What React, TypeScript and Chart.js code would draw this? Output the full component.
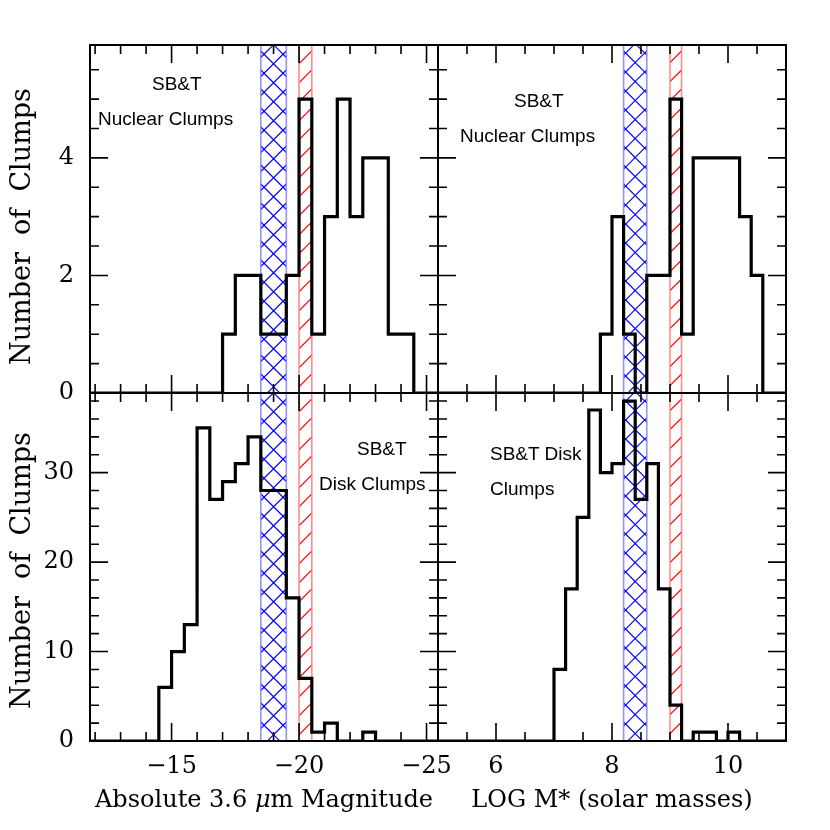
import React, { useEffect, useRef } from 'react';
import { Chart, registerables } from 'chart.js';

Chart.register(...registerables);

// ---------------- DATA ----------------
// Absolute 3.6 micron magnitude histograms (bin edges, 0.5 mag bins)
const magEdgesNuclear = [-17, -17.5, -18, -18.5, -19, -19.5, -20, -20.5, -21, -21.5, -22, -22.5, -23, -23.5, -24, -24.5];
const magCountsNuclear = [1, 2, 2, 1, 1, 2, 5, 1, 3, 5, 3, 4, 4, 1, 1];
const magEdgesDisk = [-14.5, -15, -15.5, -16, -16.5, -17, -17.5, -18, -18.5, -19, -19.5, -20, -20.5, -21, -21.5, -22, -22.5, -23];
const magCountsDisk = [6, 10, 13, 35, 27, 29, 31, 34, 28, 28, 16, 7, 1, 2, 0, 0, 1];

// LOG M* histograms (bin edges, 0.2 dex bins)
const massEdgesNuclear = [7.8, 8.0, 8.2, 8.4, 8.6, 8.8, 9.0, 9.2, 9.4, 9.6, 9.8, 10.0, 10.2, 10.4, 10.6];
const massCountsNuclear = [1, 3, 1, 0, 2, 2, 5, 1, 4, 4, 4, 4, 3, 2];
const massEdgesDisk = [7.0, 7.2, 7.4, 7.6, 7.8, 8.0, 8.2, 8.4, 8.6, 8.8, 9.0, 9.2, 9.4, 9.6, 9.8, 10.0, 10.2];
const massCountsDisk = [8, 17, 25, 37, 30, 31, 38, 27, 31, 17, 4, 0, 1, 1, 0, 1];

// shaded reference bands
const magBlueBand = [-18.5, -19.5];
const magRedBand = [-20.0, -20.5];
const massBlueBand = [8.2, 8.6];
const massRedBand = [9.0, 9.2];

// axis ranges and tick labels
const magRange = [-25.45, -11.8];
const massRange = [5, 11];
const nuclearCountMax = 5.92;
const diskCountMax = 38.9;
const magTickLabels = [-15, -20, -25];
const massTickLabels = [6, 8, 10];
const nuclearCountTicks = [0, 2, 4];
const diskCountTicks = [0, 10, 20, 30];

// ---------------- HELPERS ----------------
function stepPoints(edges: number[], counts: number[], lo: number, hi: number) {
  const pts: { x: number; y: number }[] = [{ x: lo, y: 0 }, { x: edges[0], y: 0 }];
  counts.forEach((c, i) => {
    pts.push({ x: edges[i], y: c });
    pts.push({ x: edges[i + 1], y: c });
  });
  pts.push({ x: edges[edges.length - 1], y: 0 });
  pts.push({ x: hi, y: 0 });
  return pts;
}

function range(a: number, b: number, step: number) {
  const out: number[] = [];
  const n = Math.round((b - a) / step);
  for (let i = 0; i <= n; i++) out.push(+(a + i * step).toFixed(6));
  return out;
}

function hatch(ctx: CanvasRenderingContext2D, l: number, t: number, r: number, b: number, spacing: number, dir: number) {
  const w = r - l;
  const h = b - t;
  ctx.beginPath();
  for (let c = -w - spacing; c <= h + w + spacing; c += spacing) {
    if (dir > 0) {
      ctx.moveTo(l, b - c);
      ctx.lineTo(r, b - c - w);
    } else {
      ctx.moveTo(l, b - c - w);
      ctx.lineTo(r, b - c);
    }
  }
  ctx.stroke();
}

const decorPlugin = {
  id: 'decor',
  beforeDatasetsDraw(chart: any, _args: any, opts: any) {
    const { ctx, chartArea: a, scales } = chart;
    const x = scales.x;
    const bands = [
      { band: opts.blue, color: '#0000ff', edge: 'rgba(120,120,255,0.8)', spacing: 19, cross: true },
      { band: opts.red, color: '#ff0000', edge: 'rgba(255,120,120,0.85)', spacing: 19, cross: false },
    ];
    bands.forEach((bd) => {
      const p1 = x.getPixelForValue(bd.band[0]);
      const p2 = x.getPixelForValue(bd.band[1]);
      const l = Math.min(p1, p2);
      const r = Math.max(p1, p2);
      ctx.save();
      ctx.beginPath();
      ctx.rect(l, a.top, r - l, a.bottom - a.top);
      ctx.clip();
      ctx.strokeStyle = bd.color;
      ctx.lineWidth = 1.1;
      hatch(ctx, l, a.top, r, a.bottom, bd.spacing, 1);
      if (bd.cross) hatch(ctx, l, a.top, r, a.bottom, bd.spacing, -1);
      ctx.restore();
      ctx.save();
      ctx.strokeStyle = bd.edge;
      ctx.lineWidth = 1.6;
      ctx.beginPath();
      ctx.moveTo(l, a.top);
      ctx.lineTo(l, a.bottom);
      ctx.moveTo(r, a.top);
      ctx.lineTo(r, a.bottom);
      ctx.stroke();
      ctx.restore();
    });
  },
  afterDatasetsDraw(chart: any, _args: any, opts: any) {
    const { ctx, chartArea: a, scales } = chart;
    const x = scales.x;
    const y = scales.y;
    ctx.save();
    ctx.strokeStyle = '#000';
    ctx.lineWidth = 2;
    ctx.strokeRect(a.left, a.top, a.right - a.left, a.bottom - a.top);
    ctx.lineWidth = 1.6;
    ctx.beginPath();
    const isMajor = (v: number, step: number) => Math.abs(v / step - Math.round(v / step)) < 1e-6;
    opts.xTicks.forEach((v: number) => {
      const px = x.getPixelForValue(v);
      if (px <= a.left + 1 || px >= a.right - 1) return;
      const len = isMajor(v, opts.xMajor) ? 18 : 9;
      ctx.moveTo(px, a.bottom);
      ctx.lineTo(px, a.bottom - len);
      ctx.moveTo(px, a.top);
      ctx.lineTo(px, a.top + len);
    });
    opts.yTicks.forEach((v: number) => {
      const py = y.getPixelForValue(v);
      if (py <= a.top + 1 || py >= a.bottom - 1) return;
      const len = isMajor(v, opts.yMajor) ? 18 : 9;
      ctx.moveTo(a.left, py);
      ctx.lineTo(a.left + len, py);
      ctx.moveTo(a.right, py);
      ctx.lineTo(a.right - len, py);
    });
    ctx.stroke();
    ctx.restore();
  },
};

const fmt = (v: any) => {
  const n = Number(v);
  return n < 0 ? '\u2212' + Math.abs(n) : String(n);
};

type PanelDef = {
  box: [number, number, number, number];
  edges: number[];
  counts: number[];
  xRange: number[];
  reverse: boolean;
  yMax: number;
  xTicks: number[];
  xMajor: number;
  yTicks: number[];
  yMajor: number;
  xLabels: number[] | null;
  yLabels: number[] | null;
  blue: number[];
  red: number[];
};

const TICK_FONT = { family: 'DejaVu Serif', size: 24 };

function makePanel(canvas: HTMLCanvasElement, p: PanelDef) {
  const [L, T, R, B] = p.box;
  const lo = p.reverse ? p.xRange[1] : p.xRange[0];
  const hi = p.reverse ? p.xRange[0] : p.xRange[1];
  const yAxisW = p.yLabels ? L : 0;
  const xAxisH = p.xLabels ? 830 - B : 0;
  return new Chart(canvas, {
    type: 'line',
    data: {
      datasets: [
        {
          data: stepPoints(p.edges, p.counts, lo, hi),
          borderColor: '#000',
          borderWidth: 3.2,
          pointRadius: 0,
          fill: false,
          tension: 0,
          borderJoinStyle: 'miter',
          borderCapStyle: 'square',
        } as any,
      ],
    },
    options: {
      animation: false,
      responsive: false,
      maintainAspectRatio: false,
      events: [],
      layout: { padding: { left: L - yAxisW, top: T, right: 830 - R, bottom: 830 - B - xAxisH } },
      plugins: {
        legend: { display: false },
        tooltip: { enabled: false },
        decor: { blue: p.blue, red: p.red, xTicks: p.xTicks, xMajor: p.xMajor, yTicks: p.yTicks, yMajor: p.yMajor },
      } as any,
      scales: {
        x: {
          type: 'linear',
          min: p.xRange[0],
          max: p.xRange[1],
          reverse: p.reverse,
          grid: { display: false, drawTicks: false },
          border: { display: false },
          ticks: {
            display: !!p.xLabels,
            autoSkip: false,
            maxRotation: 0,
            padding: 11,
            color: '#000',
            font: TICK_FONT,
            callback: fmt,
          },
          afterBuildTicks: (s: any) => {
            s.ticks = (p.xLabels || []).map((v) => ({ value: v }));
          },
          afterFit: (s: any) => {
            s.height = xAxisH;
          },
        },
        y: {
          type: 'linear',
          min: 0,
          max: p.yMax,
          grid: { display: false, drawTicks: false },
          border: { display: false },
          ticks: {
            display: !!p.yLabels,
            autoSkip: false,
            padding: 16,
            color: '#000',
            font: TICK_FONT,
            callback: fmt,
          },
          afterBuildTicks: (s: any) => {
            s.ticks = (p.yLabels || []).map((v) => ({ value: v }));
          },
          afterFit: (s: any) => {
            s.width = yAxisW;
          },
        },
      },
    } as any,
    plugins: [decorPlugin],
  });
}

const magMinor = range(-25, -12, 1);
const massMinor = range(5.5, 10.5, 0.5);
const nucMinor = range(0, 5.5, 0.5);
const diskMinor = range(0, 38, 2);

const panels: PanelDef[] = [
  {
    box: [90, 45, 438, 393], edges: magEdgesNuclear, counts: magCountsNuclear, xRange: magRange, reverse: true,
    yMax: nuclearCountMax, xTicks: magMinor, xMajor: 5, yTicks: nucMinor, yMajor: 2,
    xLabels: null, yLabels: nuclearCountTicks, blue: magBlueBand, red: magRedBand,
  },
  {
    box: [438, 45, 786, 393], edges: massEdgesNuclear, counts: massCountsNuclear, xRange: massRange, reverse: false,
    yMax: nuclearCountMax, xTicks: massMinor, xMajor: 2, yTicks: nucMinor, yMajor: 2,
    xLabels: null, yLabels: null, blue: massBlueBand, red: massRedBand,
  },
  {
    box: [90, 393, 438, 741], edges: magEdgesDisk, counts: magCountsDisk, xRange: magRange, reverse: true,
    yMax: diskCountMax, xTicks: magMinor, xMajor: 5, yTicks: diskMinor, yMajor: 10,
    xLabels: magTickLabels, yLabels: diskCountTicks, blue: magBlueBand, red: magRedBand,
  },
  {
    box: [438, 393, 786, 741], edges: massEdgesDisk, counts: massCountsDisk, xRange: massRange, reverse: false,
    yMax: diskCountMax, xTicks: massMinor, xMajor: 2, yTicks: diskMinor, yMajor: 10,
    xLabels: massTickLabels, yLabels: null, blue: massBlueBand, red: massRedBand,
  },
];

function Txt({ x, base, size, family, children, align = 'left' }: any) {
  const w = 400;
  const left = align === 'center' ? x - w / 2 : x;
  return (
    <div
      style={{
        position: 'absolute',
        left,
        top: base - 0.846 * size,
        width: align === 'center' ? w : undefined,
        textAlign: align,
        fontFamily: family,
        fontSize: size,
        lineHeight: 1,
        whiteSpace: 'pre',
        color: '#000',
      }}
    >
      {children}
    </div>
  );
}

function VTxt({ cx, cy, size, family, children }: any) {
  const w = 400;
  return (
    <div
      style={{
        position: 'absolute',
        left: cx - w / 2,
        top: cy - size / 2,
        width: w,
        height: size,
        textAlign: 'center',
        fontFamily: family,
        fontSize: size,
        lineHeight: 1,
        whiteSpace: 'pre',
        transform: 'rotate(-90deg)',
        transformOrigin: '50% 50%',
        color: '#000',
      }}
    >
      {children}
    </div>
  );
}

const SANS = "'Liberation Sans', Arial, sans-serif";
const SERIF = "'DejaVu Serif', serif";

export default function App() {
  const refs = [useRef<HTMLCanvasElement>(null), useRef<HTMLCanvasElement>(null), useRef<HTMLCanvasElement>(null), useRef<HTMLCanvasElement>(null)];
  useEffect(() => {
    const charts = panels.map((p, i) => makePanel(refs[i].current as HTMLCanvasElement, p));
    return () => charts.forEach((c) => c.destroy());
  }, []);
  return (
    <div style={{ position: 'absolute', left: 0, top: 0, width: 830, height: 830, background: '#fff', overflow: 'hidden' }}>
      {refs.map((r, i) => (
        <canvas key={i} ref={r} width={830} height={830} style={{ position: 'absolute', left: 0, top: 0, width: 830, height: 830 }} />
      ))}
      <Txt x={152} base={90} size={19} family={SANS}>SB&amp;T</Txt>
      <Txt x={98} base={125} size={19} family={SANS}>Nuclear Clumps</Txt>
      <Txt x={514} base={107} size={19} family={SANS}>SB&amp;T</Txt>
      <Txt x={460} base={142} size={19} family={SANS}>Nuclear Clumps</Txt>
      <Txt x={357} base={455} size={19} family={SANS}>SB&amp;T</Txt>
      <Txt x={319} base={490} size={19} family={SANS}>Disk Clumps</Txt>
      <Txt x={490} base={460} size={19} family={SANS}>SB&amp;T Disk</Txt>
      <Txt x={490} base={495} size={19} family={SANS}>Clumps</Txt>
      <Txt x={264} base={807} size={24} family={SERIF} align="center">
        Absolute 3.6 <i>μ</i>m Magnitude
      </Txt>
      <Txt x={612} base={807} size={24} family={SERIF} align="center">
        LOG M* (solar masses)
      </Txt>
      <VTxt cx={20} cy={226} size={27} family={SERIF}>Number  of  Clumps</VTxt>
      <VTxt cx={20} cy={570} size={27} family={SERIF}>Number  of  Clumps</VTxt>
    </div>
  );
}
